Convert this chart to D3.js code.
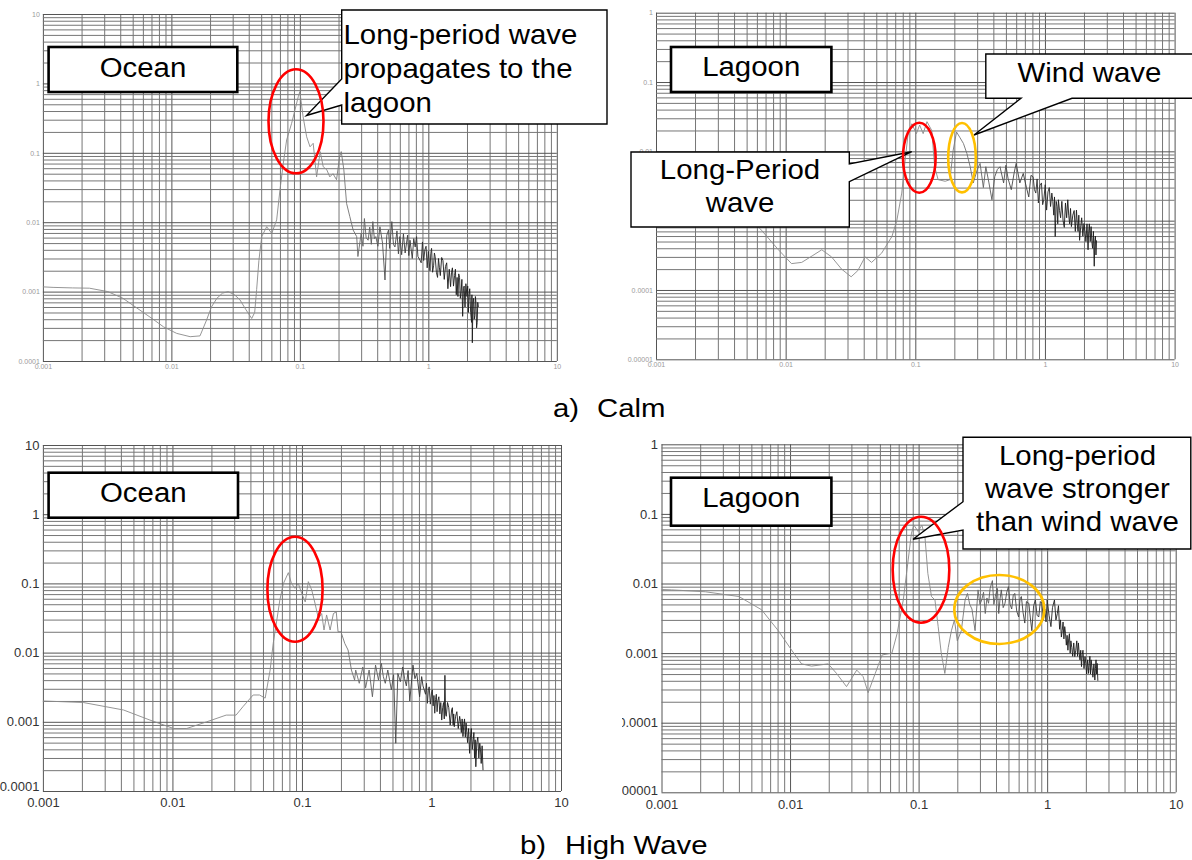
<!DOCTYPE html>
<html><head><meta charset="utf-8">
<script src="https://cdn.jsdelivr.net/npm/d3@7"></script>
<style>
html,body{margin:0;padding:0;background:#fff;}
svg{display:block;font-family:"Liberation Sans",Arial,sans-serif;}
</style>
</head><body>
<svg id="chart" width="1192" height="860"></svg>
<script>
// ---------------- DATA ----------------
const xTickValues = [0.001, 0.01, 0.1, 1, 10];
const xTickLabels = ["0.001", "0.01", "0.1", "1", "10"];
const oceanYTickValues = [10, 1, 0.1, 0.01, 0.001, 0.0001];
const oceanYTickLabels = ["10", "1", "0.1", "0.01", "0.001", "0.0001"];
const lagoonYTickValues = [1, 0.1, 0.01, 0.001, 0.0001, 0.00001];
const lagoonYTickLabels = ["1", "0.1", "0.01", "0.001", "0.0001", "0.00001"];
const panelNames = ["Ocean", "Lagoon", "Ocean", "Lagoon"];
const captionLetters = ["a)", "b)"];
const captionTexts = ["Calm", "High Wave"];
const calloutTexts = [
  ["Long-period wave", "propagates to the", "lagoon"],
  ["Wind wave"],
  ["Long-Period", "wave"],
  ["Long-period", "wave stronger", "than wind wave"]
];

// [frequency, spectral density]
const calmOcean = [[0.001,0.00117],[0.0012,0.00115],[0.0017,0.00113],[0.0023,0.00112],[0.0032,0.001],[0.0042,0.0008],[0.0057,0.00054],[0.0072,0.0004],[0.0087,0.00031],[0.011,0.00025],[0.014,0.000224],[0.0167,0.00023],[0.0188,0.00039],[0.0205,0.0006],[0.0226,0.0008],[0.025,0.00095],[0.0277,0.001],[0.031,0.0009],[0.0342,0.00076],[0.038,0.00055],[0.0422,0.00041],[0.0445,0.0005],[0.0461,0.00107],[0.048,0.0028],[0.0505,0.0062],[0.0552,0.0086],[0.0604,0.0069],[0.066,0.0108],[0.07,0.029],[0.0743,0.07],[0.0789,0.153],[0.0863,0.266],[0.0916,0.414],[0.0972,0.643],[0.1,0.76],[0.103,0.5],[0.106,0.33],[0.113,0.17],[0.12,0.122],[0.127,0.137],[0.135,0.045],[0.144,0.104],[0.152,0.063],[0.162,0.057],[0.171,0.045],[0.181,0.05],[0.193,0.041],[0.204,0.088],[0.21,0.104],[0.22,0.057],[0.231,0.0187],[0.245,0.012],[0.26,0.0077],[0.277,0.0062],[0.283,0.0032],[0.3,0.0069],[0.31,0.0045],[0.318,0.0113],[0.328,0.006],[0.34,0.0055],[0.35,0.0085],[0.36,0.0048],[0.37,0.0102],[0.38,0.0058],[0.39,0.0062],[0.405,0.0045],[0.42,0.0086],[0.44,0.005],[0.46,0.00147],[0.475,0.0065],[0.49,0.0077],[0.5,0.0042],[0.52,0.0102],[0.535,0.0048],[0.55,0.0044],[0.57,0.0075],[0.585,0.0035],[0.6,0.0062],[0.62,0.0034],[0.64,0.0068],[0.66,0.0036],[0.69,0.0065],[0.705,0.0033],[0.72,0.0055],[0.75,0.003],[0.77,0.0058],[0.79,0.0044],[0.81,0.0062],[0.83,0.0032],[0.86,0.00285],[0.88,0.0026],[0.9,0.0052],[0.92,0.0028],[0.94,0.004],[0.96,0.0045],[0.98,0.0022],[1.0,0.0038],[1.03,0.002],[1.045,0.0035],[1.06,0.0042],[1.08,0.0019],[1.1,0.0024],[1.115,0.0036],[1.13,0.0032],[1.155,0.0019],[1.18,0.0016],[1.2,0.003],[1.22,0.0022],[1.24,0.0017],[1.27,0.0031],[1.3,0.0028],[1.33,0.0015],[1.36,0.0023],[1.39,0.0026],[1.42,0.0011],[1.455,0.0021],[1.49,0.00118],[1.515,0.0019],[1.54,0.0022],[1.57,0.0012],[1.6,0.0017],[1.625,0.0021],[1.65,0.0009],[1.675,0.0016],[1.7,0.00085],[1.725,0.0018],[1.75,0.0016],[1.775,0.0008],[1.8,0.001],[1.825,0.0015],[1.85,0.00044],[1.875,0.0011],[1.9,0.0012],[1.93,0.0006],[1.96,0.0013],[2.0,0.00085],[2.025,0.0012],[2.05,0.0005],[2.075,0.0009],[2.1,0.0011],[2.135,0.0005],[2.17,0.00036],[2.185,0.0009],[2.2,0.000183],[2.225,0.0007],[2.25,0.0008],[2.275,0.0004],[2.3,0.00045],[2.325,0.00085],[2.35,0.00068],[2.375,0.0003],[2.4,0.00036],[2.425,0.0007],[2.45,0.0006]];

const calmLagoon = [[0.001,0.0035],[0.002,0.0033],[0.003,0.0027],[0.004,0.0019],[0.005,0.0012],[0.0065,0.00073],[0.0088,0.00038],[0.0111,0.00024],[0.0133,0.00025],[0.016,0.00031],[0.019,0.00038],[0.0226,0.0003],[0.027,0.0002],[0.032,0.000155],[0.036,0.00019],[0.041,0.0003],[0.046,0.00025],[0.055,0.00034],[0.066,0.00059],[0.072,0.001],[0.0786,0.0025],[0.0835,0.0075],[0.088,0.018],[0.094,0.025],[0.102,0.018],[0.108,0.024],[0.115,0.018],[0.123,0.0268],[0.134,0.02],[0.141,0.006],[0.15,0.0039],[0.17,0.0037],[0.185,0.0039],[0.196,0.0104],[0.208,0.019],[0.22,0.016],[0.235,0.013],[0.25,0.0093],[0.265,0.006],[0.28,0.0035],[0.3,0.0054],[0.316,0.0067],[0.335,0.003],[0.35,0.006],[0.37,0.0035],[0.39,0.002],[0.41,0.0043],[0.43,0.0055],[0.45,0.006],[0.48,0.0035],[0.5,0.0063],[0.52,0.004],[0.55,0.0028],[0.58,0.005],[0.6,0.0067],[0.64,0.0035],[0.68,0.0048],[0.72,0.003],[0.75,0.0022],[0.78,0.0045],[0.81,0.0043],[0.83,0.0028],[0.85,0.0025],[0.87,0.004],[0.89,0.0018],[0.915,0.0032],[0.94,0.0035],[0.96,0.0017],[0.98,0.002],[1.005,0.0033],[1.03,0.00142],[1.055,0.0026],[1.08,0.003],[1.105,0.0016],[1.13,0.0025],[1.15,0.0019],[1.17,0.0012],[1.185,0.0022],[1.2,0.00059],[1.22,0.0019],[1.24,0.0016],[1.255,0.0009],[1.27,0.002],[1.295,0.0014],[1.32,0.0011],[1.35,0.0019],[1.38,0.001],[1.41,0.0008],[1.44,0.0018],[1.47,0.0011],[1.5,0.002],[1.525,0.0012],[1.55,0.0009],[1.575,0.0015],[1.6,0.00082],[1.64,0.0012],[1.68,0.0014],[1.715,0.0007],[1.75,0.00142],[1.775,0.0009],[1.8,0.0007],[1.825,0.0012],[1.85,0.00052],[1.885,0.0008],[1.92,0.0011],[1.96,0.0006],[2.0,0.00091],[2.035,0.0007],[2.07,0.0005],[2.11,0.0009],[2.15,0.00038],[2.175,0.0007],[2.2,0.0009],[2.235,0.0005],[2.27,0.00082],[2.3,0.0005],[2.33,0.0004],[2.365,0.0007],[2.4,0.00022],[2.425,0.0005],[2.45,0.0006],[2.475,0.00032],[2.5,0.00052]];

const highOcean = [[0.001,0.002],[0.00205,0.0019],[0.0042,0.00148],[0.0067,0.00106],[0.0102,0.0008],[0.0129,0.0008],[0.0184,0.001],[0.026,0.00125],[0.031,0.00125],[0.035,0.00165],[0.042,0.00244],[0.047,0.00244],[0.052,0.0022],[0.0568,0.0056],[0.06,0.0136],[0.064,0.0296],[0.0675,0.0575],[0.072,0.1],[0.0785,0.143],[0.083,0.1],[0.0883,0.085],[0.0937,0.1],[0.0995,0.072],[0.106,0.054],[0.112,0.106],[0.119,0.08],[0.126,0.052],[0.134,0.031],[0.142,0.0367],[0.148,0.0212],[0.155,0.035],[0.165,0.0212],[0.175,0.0367],[0.184,0.0388],[0.19,0.02],[0.2,0.02],[0.214,0.0136],[0.227,0.0109],[0.241,0.0056],[0.255,0.004],[0.26,0.0056],[0.277,0.0036],[0.295,0.0062],[0.31,0.0031],[0.33,0.0056],[0.35,0.0023],[0.37,0.0066],[0.39,0.004],[0.41,0.007],[0.425,0.0045],[0.44,0.0036],[0.46,0.0056],[0.49,0.0029],[0.51,0.0048],[0.53,0.00049],[0.55,0.005],[0.575,0.0038],[0.6,0.0062],[0.62,0.0042],[0.64,0.0033],[0.66,0.0055],[0.68,0.002],[0.72,0.0066],[0.745,0.0042],[0.77,0.005],[0.81,0.0023],[0.84,0.0045],[0.86,0.0033],[0.9,0.0025],[0.915,0.0036],[0.93,0.00185],[0.945,0.0028],[0.96,0.0032],[0.98,0.0018],[1.0,0.0026],[1.015,0.0029],[1.03,0.0017],[1.045,0.0024],[1.06,0.00133],[1.075,0.0021],[1.09,0.0025],[1.105,0.0014],[1.12,0.002],[1.14,0.0023],[1.16,0.0013],[1.18,0.0019],[1.2,0.00106],[1.22,0.0016],[1.24,0.0019],[1.255,0.0011],[1.27,0.0047],[1.285,0.0013],[1.3,0.0012],[1.33,0.0019],[1.36,0.0016],[1.395,0.0009],[1.43,0.00148],[1.45,0.0016],[1.47,0.0009],[1.485,0.0013],[1.5,0.00085],[1.535,0.0012],[1.57,0.0014],[1.61,0.0008],[1.65,0.0012],[1.675,0.001],[1.7,0.0007],[1.725,0.0011],[1.75,0.00061],[1.775,0.0009],[1.8,0.0011],[1.825,0.0006],[1.85,0.00096],[1.875,0.0007],[1.9,0.0005],[1.935,0.0008],[1.97,0.00035],[2.0,0.0006],[2.03,0.0008],[2.065,0.0004],[2.1,0.00055],[2.125,0.0007],[2.15,0.0003],[2.175,0.00055],[2.2,0.000224],[2.24,0.0005],[2.28,0.0006],[2.32,0.0003],[2.36,0.00049],[2.39,0.0004],[2.42,0.00025],[2.46,0.00045],[2.5,0.0002]];

const highLagoon = [[0.001,0.0082],[0.0012,0.0081],[0.0022,0.0076],[0.004,0.0065],[0.006,0.0042],[0.0081,0.0021],[0.0103,0.0011],[0.0123,0.0007],[0.0147,0.00065],[0.0198,0.0007],[0.023,0.00051],[0.0275,0.00033],[0.033,0.00057],[0.037,0.00046],[0.0405,0.00027],[0.046,0.00051],[0.052,0.00094],[0.062,0.001],[0.068,0.0019],[0.076,0.0058],[0.083,0.0218],[0.088,0.053],[0.092,0.069],[0.099,0.056],[0.106,0.069],[0.112,0.047],[0.118,0.014],[0.126,0.0065],[0.134,0.0058],[0.142,0.0024],[0.15,0.001],[0.16,0.00051],[0.17,0.0012],[0.18,0.0021],[0.19,0.003],[0.2,0.0015],[0.215,0.0021],[0.23,0.0058],[0.24,0.0072],[0.25,0.005],[0.26,0.0043],[0.275,0.0021],[0.29,0.0081],[0.3,0.005],[0.31,0.0058],[0.32,0.0075],[0.33,0.0037],[0.34,0.0062],[0.35,0.0052],[0.36,0.0085],[0.375,0.011],[0.385,0.005],[0.395,0.0065],[0.41,0.0085],[0.42,0.0037],[0.43,0.006],[0.44,0.0081],[0.455,0.0045],[0.47,0.0052],[0.485,0.0075],[0.5,0.009],[0.515,0.005],[0.53,0.0043],[0.545,0.0068],[0.56,0.0072],[0.58,0.004],[0.6,0.0033],[0.615,0.006],[0.63,0.0065],[0.65,0.0038],[0.67,0.0027],[0.69,0.0055],[0.72,0.0052],[0.74,0.0032],[0.76,0.0021],[0.785,0.0048],[0.81,0.0058],[0.835,0.0035],[0.86,0.0033],[0.885,0.0055],[0.91,0.0052],[0.935,0.003],[0.96,0.0043],[0.98,0.0028],[1.0,0.0058],[1.035,0.0035],[1.07,0.0024],[1.1,0.0045],[1.14,0.0058],[1.17,0.003],[1.2,0.0037],[1.225,0.0048],[1.25,0.0022],[1.27,0.003],[1.29,0.0017],[1.31,0.0021],[1.33,0.0028],[1.35,0.0016],[1.37,0.0024],[1.39,0.0019],[1.41,0.0013],[1.43,0.0018],[1.45,0.0011],[1.47,0.0016],[1.49,0.0019],[1.51,0.001],[1.53,0.0015],[1.555,0.0012],[1.58,0.0009],[1.61,0.0014],[1.64,0.00089],[1.67,0.0011],[1.7,0.0015],[1.725,0.0009],[1.75,0.0014],[1.775,0.001],[1.8,0.0008],[1.825,0.0011],[1.85,0.00064],[1.875,0.00095],[1.9,0.0011],[1.935,0.0006],[1.97,0.00089],[2.0,0.0007],[2.03,0.0005],[2.065,0.0008],[2.1,0.00051],[2.125,0.0007],[2.15,0.0009],[2.175,0.0005],[2.2,0.0008],[2.235,0.0006],[2.27,0.00045],[2.31,0.0007],[2.35,0.00041],[2.375,0.0006],[2.4,0.0008],[2.425,0.0005],[2.45,0.00071],[2.48,0.0004]];

// ---------------- LAYOUT (pixels) ----------------
const panels = [
  {data: calmOcean, xr:[42.9,556.8], yr:[361,14], ydom:[1e-4,10], yv: oceanYTickValues, yl: oceanYTickLabels, small:true,
   clip:[0,0,606,390], box:[48.6,47,188.7,45], boxBase:76.5, lowShift:0},
  {data: calmLagoon, xr:[656,1174.6], yr:[359.3,12.7], ydom:[1e-5,1], yv: lagoonYTickValues, yl: lagoonYTickLabels, small:true,
   clip:[608,0,584,390], box:[671,47,160.4,45], boxBase:76, lowShift:0},
  {data: highOcean, xr:[42.9,561], yr:[791,445], ydom:[1e-4,10], yv: oceanYTickValues, yl: oceanYTickLabels, small:false,
   clip:[0,430,606,430], box:[48.6,472.7,189.4,45], boxBase:501.7, lowShift:-5},
  {data: highLagoon, xr:[661.5,1175.7], yr:[792.3,444.3], ydom:[1e-5,1], yv: lagoonYTickValues, yl: lagoonYTickLabels, small:false,
   clip:[622,430,570,430], box:[671,477.7,160.4,48], boxBase:506.7, lowShift:-2}
];

const svg = d3.select("#chart");
svg.append("rect").attr("width",1192).attr("height",860).attr("fill","#fff");
const defs = svg.append("defs");

function addText(parent, x, y, s, size, sx, anchor) {
  return parent.append("text")
    .attr("transform", "translate(" + x + "," + y + ") scale(" + sx + ",1)")
    .attr("text-anchor", anchor || "start")
    .attr("font-size", size).attr("fill", "#000").text(s);
}

function gridValues(lo, hi) {
  const out = [];
  for (let e = Math.round(Math.log10(lo)); e < Math.round(Math.log10(hi)); e++) {
    for (let k = 1; k <= 9; k++) out.push(+(k * Math.pow(10, e)).toPrecision(6));
  }
  out.push(hi);
  return out;
}
const isMajor = d => Math.abs(Math.log10(d) - Math.round(Math.log10(d))) < 1e-6;

panels.forEach((p, i) => {
  const x = d3.scaleLog().domain([0.001, 10]).range(p.xr);
  const y = d3.scaleLog().domain(p.ydom).range(p.yr);
  const w = p.xr[1] - p.xr[0], h = p.yr[0] - p.yr[1];

  defs.append("clipPath").attr("id","clip"+i).append("rect")
    .attr("x",p.clip[0]).attr("y",p.clip[1]).attr("width",p.clip[2]).attr("height",p.clip[3]);
  const g = svg.append("g").attr("clip-path","url(#clip"+i+")");

  const fs = p.small ? 7 : 13;
  const tcol = p.small ? "#9a9a9a" : "#333";
  const xlab = d => { const j = xTickValues.findIndex(v => Math.abs(v-d)/d < 1e-6); return j >= 0 ? xTickLabels[j] : ""; };
  const ylab = d => { const j = p.yv.findIndex(v => Math.abs(v-d)/d < 1e-6); return j >= 0 ? p.yl[j] : ""; };

  const xa = g.append("g").attr("transform","translate(0,"+p.yr[0]+")")
    .call(d3.axisBottom(x).tickValues(gridValues(0.001,10)).tickSize(-h).tickPadding(p.small?3:7).tickFormat(xlab));
  const ya = g.append("g").attr("transform","translate("+p.xr[0]+",0)")
    .call(d3.axisLeft(y).tickValues(gridValues(p.ydom[0],p.ydom[1])).tickSize(-w).tickPadding(p.small?3:3.5).tickFormat(ylab));
  [xa, ya].forEach(a => {
    a.select(".domain").remove();
    a.selectAll(".tick line").attr("stroke", d => isMajor(d) ? "#555" : "#767676").attr("stroke-width",1);
    a.selectAll(".tick text").attr("fill",tcol).attr("font-size",fs).attr("font-family","Liberation Sans, Arial, sans-serif");
  });
  // lowest y label sits slightly above the corner
  ya.selectAll(".tick text").filter(d => Math.abs(d - p.ydom[0])/d < 1e-6).attr("y", p.lowShift);

  // gradient: smooth part gray, noisy part dark
  const gid = "grad"+i;
  const grad = defs.append("linearGradient").attr("id",gid).attr("gradientUnits","userSpaceOnUse")
    .attr("x1",x(0.15)).attr("x2",x(1.3)).attr("y1",0).attr("y2",0);
  grad.append("stop").attr("offset",0).attr("stop-color","#8a8a8a");
  grad.append("stop").attr("offset",1).attr("stop-color","#1a1a1a");

  const line = d3.line().x(d => x(d[0])).y(d => y(d[1]));
  g.append("path").datum(p.data).attr("d",line).attr("fill","none")
    .attr("stroke","url(#"+gid+")").attr("stroke-width",0.9).attr("stroke-linejoin","round");

  // panel name box
  svg.append("rect").attr("x",p.box[0]).attr("y",p.box[1]).attr("width",p.box[2]).attr("height",p.box[3])
    .attr("fill","#fff").attr("stroke","#000").attr("stroke-width",2.6);
  addText(svg, p.box[0]+p.box[2]/2, p.boxBase, panelNames[i], 28, 1.05, "middle");
});

// callouts
const callouts = [
  {d:"M341.7,10 H607 V124 H341.7 V105 L306.5,115.5 L341.7,79 Z", anchor:"start", x:343.5, base:[43.5,77.5,111.5]},
  {d:"M985.8,54 H1196 V98.3 H1072 L974,135 L1021,98.3 H985.8 Z", anchor:"middle", x:1089.5, base:[81.5]},
  {d:"M631,152 H849.3 V164 L911.7,151.7 L849.3,181.7 V227 H631 Z", anchor:"middle", x:740, base:[179.3,211.7]},
  {d:"M963,437.3 H1190.8 V549 H963 V530 L913,539.3 L963,501.7 Z", anchor:"middle", x:1077.5, base:[465,498,530.5]}
];
callouts.forEach((c, i) => {
  svg.append("path").attr("d",c.d).attr("fill","#fff").attr("stroke","#000").attr("stroke-width",1.4).attr("stroke-linejoin","miter");
  calloutTexts[i].forEach((t, j) => addText(svg, c.x, c.base[j], t, 27, 1.09, c.anchor));
});

// highlight ellipses
const ellipses = [
  {cx:296, cy:121.3, rx:27.5, ry:52, c:"#ff0000"},
  {cx:919.3, cy:157.7, rx:16.3, ry:35, c:"#ff0000"},
  {cx:962, cy:157.7, rx:13.8, ry:34.7, c:"#ffc000"},
  {cx:295, cy:589.2, rx:27.6, ry:52.5, c:"#ff0000"},
  {cx:921, cy:569.7, rx:28.3, ry:53, c:"#ff0000"},
  {cx:999.3, cy:609.5, rx:45, ry:34.5, c:"#ffc000"}
];
ellipses.forEach(e => {
  svg.append("ellipse").attr("cx",e.cx).attr("cy",e.cy).attr("rx",e.rx).attr("ry",e.ry)
    .attr("fill","none").attr("stroke",e.c).attr("stroke-width",2.6);
});

// captions
const capPos = [{lx:553, tx:597, base:417}, {lx:520, tx:565, base:853.5}];
capPos.forEach((c, i) => {
  addText(svg, c.lx, c.base, captionLetters[i], 26, 1.13, "start");
  addText(svg, c.tx, c.base, captionTexts[i], 26, 1.13, "start");
});
</script>
</body></html>
